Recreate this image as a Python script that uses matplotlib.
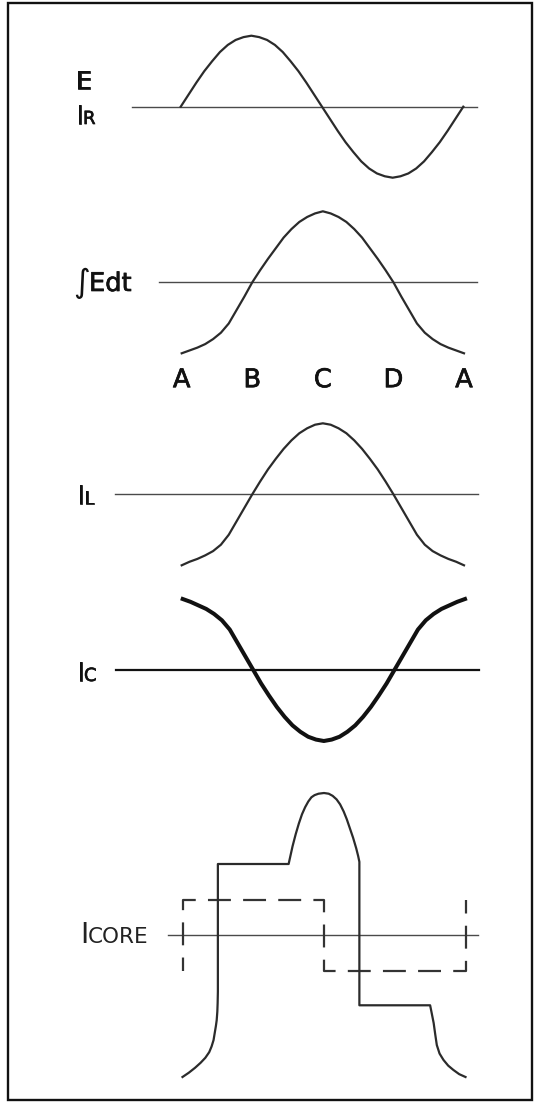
import matplotlib
matplotlib.use('Agg')
import matplotlib.pyplot as plt
import matplotlib.transforms as mtransforms
import matplotlib.patheffects as pe
from matplotlib.patches import Rectangle

plt.rcParams['font.family'] = ['DejaVu Sans']
plt.rcParams['lines.scale_dashes'] = False

# phase in degrees, one cycle A -> B -> C -> D -> A
deg = [0, 10, 20, 30, 40, 50, 60, 70, 80, 90, 100, 110, 120, 130, 140, 150, 160, 170, 180,
       190, 200, 210, 220, 230, 240, 250, 260, 270, 280, 290, 300, 310, 320, 330, 340, 350, 360]

e_ir = [0, 0.17, 0.34, 0.50, 0.64, 0.77, 0.87, 0.94, 0.98, 1.00, 0.98, 0.94, 0.87, 0.77, 0.64, 0.50, 0.34, 0.17, 0,
        -0.17, -0.34, -0.50, -0.64, -0.77, -0.87, -0.94, -0.98, -1.00, -0.98, -0.94, -0.87, -0.77, -0.64, -0.50, -0.34, -0.17, 0]

int_edt = [-1.00, -0.96, -0.92, -0.87, -0.80, -0.71, -0.58, -0.39, -0.20, 0.0, 0.17, 0.33, 0.48, 0.63, 0.75, 0.85, 0.92, 0.97, 1.00,
           0.97, 0.92, 0.85, 0.75, 0.63, 0.48, 0.33, 0.17, 0.0, -0.20, -0.39, -0.58, -0.71, -0.80, -0.87, -0.92, -0.96, -1.00]

i_l = [-1.00, -0.95, -0.91, -0.86, -0.80, -0.71, -0.57, -0.38, -0.19, 0.0, 0.18, 0.35, 0.50, 0.64, 0.76, 0.86, 0.93, 0.98, 1.00,
       0.98, 0.93, 0.86, 0.76, 0.64, 0.50, 0.35, 0.18, 0.0, -0.19, -0.38, -0.57, -0.71, -0.80, -0.86, -0.91, -0.95, -1.00]

i_c = [1.00, 0.96, 0.91, 0.86, 0.79, 0.70, 0.57, 0.38, 0.19, 0.0, -0.19, -0.36, -0.52, -0.66, -0.78, -0.87, -0.94, -0.98, -1.00,
       -0.98, -0.94, -0.87, -0.78, -0.66, -0.52, -0.36, -0.19, 0.0, 0.19, 0.38, 0.57, 0.70, 0.79, 0.86, 0.91, 0.96, 1.00]

# core current (solid) and the square wave (dashed)
core_deg = [0, 8, 16, 23, 29, 34, 37, 39.5, 41, 42.5, 43.5, 44.3, 44.7, 45, 45,
            135, 137, 140, 144, 148, 152, 156, 160, 164, 168, 173, 180,
            186, 191, 196, 200.5, 205, 209, 213, 217, 221, 223.5, 225, 225,
            315, 317, 319.5, 321.5, 323.5, 327, 332, 338, 344.5, 352, 360]
core_val = [-2.00, -1.94, -1.87, -1.80, -1.73, -1.65, -1.57, -1.48, -1.38, -1.28, -1.20, -1.08, -0.96, -0.80, 1.00,
            1.00, 1.10, 1.25, 1.42, 1.57, 1.70, 1.80, 1.88, 1.94, 1.97, 1.99, 2.00,
            1.99, 1.96, 1.91, 1.84, 1.74, 1.63, 1.50, 1.37, 1.22, 1.11, 1.03, -0.99,
            -0.99, -1.10, -1.24, -1.40, -1.55, -1.67, -1.76, -1.84, -1.90, -1.96, -2.00]
sq_deg = [0, 0, 180, 180, 360, 360]
sq_val = [-0.5, 0.5, 0.5, -0.5, -0.5, 0.5]

tick_deg = [0, 90, 180, 270, 360]
tick_lab = ['A', 'B', 'C', 'D', 'A']

W, H = 534, 1103
fig = plt.figure(figsize=(W / 100, H / 100), dpi=100)
px = mtransforms.Affine2D().scale(1 / W, -1 / H).translate(0, 1) + fig.transFigure

WAVE = '#2b2b2b'
BASE = '#4a4a4a'
TXT = '#111111'
heavy = [pe.withStroke(linewidth=0.5, foreground=TXT)]


def panel(x0, x1, base, unit=71, span=1.0):
    ax = fig.add_axes([x0 / W, 1 - (base + span * unit) / H, (x1 - x0) / W, 2 * span * unit / H])
    ax.set_xlim(0, 360)
    ax.set_ylim(-span, span)
    ax.set_frame_on(False)
    ax.set_xticks([])
    ax.set_yticks([])
    ax.patch.set_alpha(0)
    return ax


def baseline(ax, x0, x1, left, right, **kw):
    # zero line, extent given in pixels
    a = (left - x0) / (x1 - x0)
    b = (right - x0) / (x1 - x0)
    ax.axhline(0, a, b, clip_on=False, **kw)


# E / IR
ax1 = panel(180.7, 463.3, 106.7)
baseline(ax1, 180.7, 463.3, 131.7, 476.7, color=BASE, lw=1.0)
ax1.plot(deg, e_ir, color=WAVE, lw=1.6, clip_on=False)

# integral of E
ax2 = panel(181.7, 464.0, 282.3)
baseline(ax2, 181.7, 464.0, 159.3, 476.7, color=BASE, lw=1.0)
ax2.plot(deg, int_edt, color=WAVE, lw=1.6, clip_on=False)
ax2.set_xticks(tick_deg, tick_lab, fontsize=18.5)
ax2.tick_params(axis='x', length=0, pad=10, colors=TXT)
for t in ax2.get_xticklabels():
    t.set_path_effects(heavy)

# IL
ax3 = panel(181.7, 464.0, 494.3)
baseline(ax3, 181.7, 464.0, 115.0, 478.0, color=BASE, lw=1.0)
ax3.plot(deg, i_l, color=WAVE, lw=1.6, clip_on=False)

# IC (heavier)
ax4 = panel(182.7, 465.0, 670.0)
baseline(ax4, 182.7, 465.0, 116.0, 479.0, color=TXT, lw=1.6)
ax4.plot(deg, i_c, color=TXT, lw=2.9, clip_on=False, solid_joinstyle='round')

# ICORE
ax5 = panel(182.5, 465.5, 935.0, span=2.0)
baseline(ax5, 182.5, 465.5, 168.3, 478.3, color=BASE, lw=1.0)
ax5.plot(sq_deg, sq_val, color='#333333', lw=1.6, clip_on=False,
         ls=(6.8, (16.5, 8.8)))
ax5.plot(core_deg, core_val, color=WAVE, lw=1.6, clip_on=False)

# labels
big = 19
sub = 13
fig.text(76, 89, 'E', transform=px, fontsize=18, color=TXT, va='baseline', path_effects=heavy)
fig.text(76, 124, 'I', transform=px, fontsize=big, color=TXT, va='baseline', path_effects=heavy)
fig.text(83, 124, 'R', transform=px, fontsize=sub, color=TXT, va='baseline', path_effects=heavy)
fig.text(73, 292, '∫', transform=px, fontsize=23, color=TXT, va='baseline')
fig.text(89, 291, 'Edt', transform=px, fontsize=18.5, color=TXT, va='baseline', path_effects=heavy)
fig.text(77, 504, 'I', transform=px, fontsize=big, color=TXT, va='baseline', path_effects=heavy)
fig.text(84, 504, 'L', transform=px, fontsize=sub, color=TXT, va='baseline', path_effects=heavy)
fig.text(77, 681, 'I', transform=px, fontsize=big, color=TXT, va='baseline', path_effects=heavy)
fig.text(84, 681, 'C', transform=px, fontsize=sub, color=TXT, va='baseline', path_effects=heavy)
fig.text(80, 943, 'I', transform=px, fontsize=20, color='#222222', va='baseline')
fig.text(88, 943, 'CORE', transform=px, fontsize=15.5, color='#222222', va='baseline')

# outer frame
fig.patches.append(Rectangle((8, 3), 524, 1097, transform=px, fill=False,
                             edgecolor=TXT, lw=1.7))

fig.savefig('out.png', dpi=100)
